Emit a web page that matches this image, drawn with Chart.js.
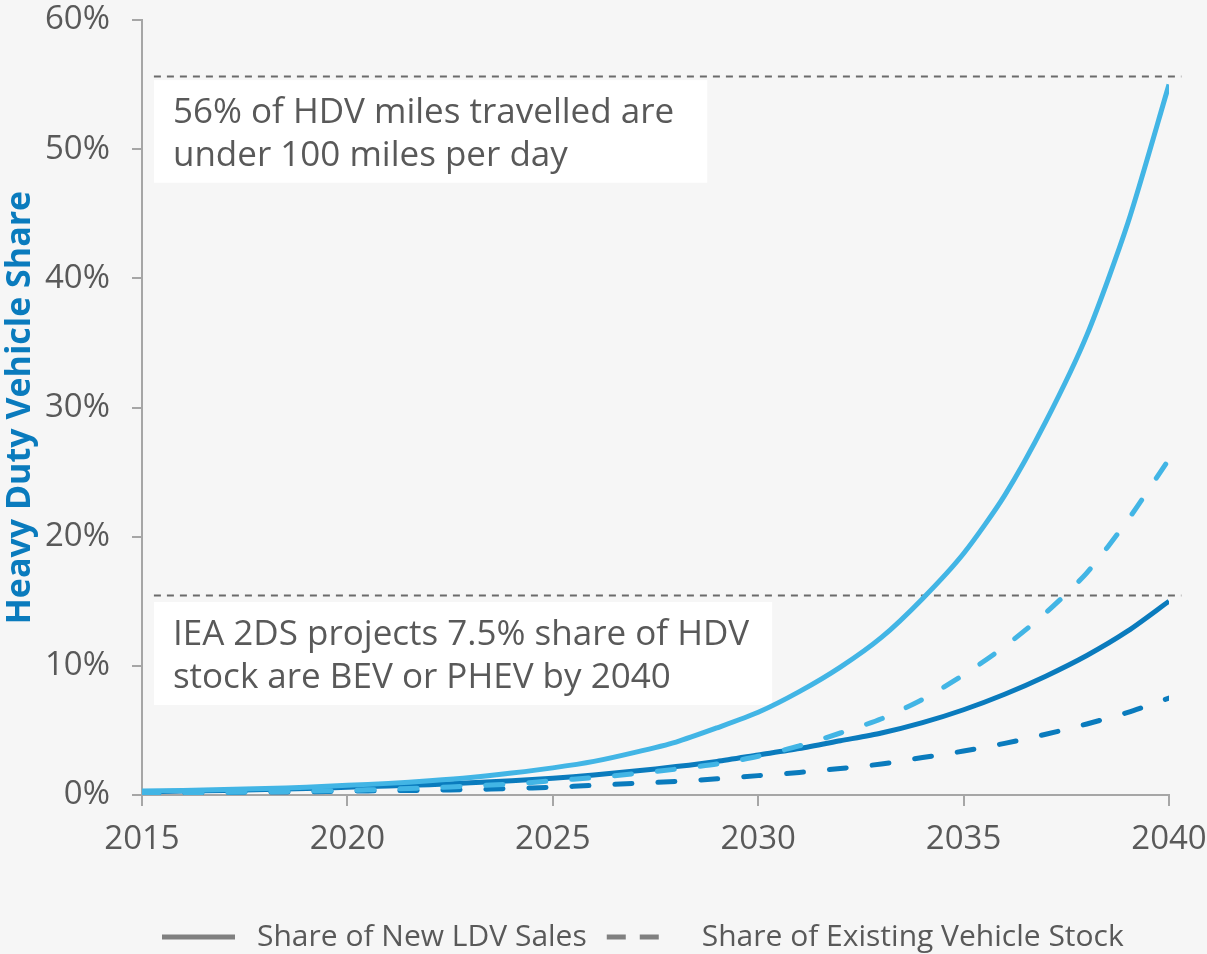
<!DOCTYPE html>
<html>
<head>
<meta charset="utf-8">
<script src="https://cdn.jsdelivr.net/npm/chart.js@4/dist/chart.umd.min.js"></script>
<style>
  html, body { margin: 0; padding: 0; background: #f6f6f6; }
  #wrap { position: relative; width: 1207px; height: 954px; }
</style>
</head>
<body>
<div id="wrap"><canvas id="myChart" width="1207" height="954"></canvas></div>
<script>
const years = [2015, 2016, 2017, 2018, 2019, 2020, 2021, 2022, 2023, 2024, 2025, 2026, 2027,
  2028, 2029, 2030, 2031, 2032, 2033, 2034, 2035, 2036, 2037, 2038, 2039, 2040];

// light blue scenario
const salesHigh = [0.3, 0.35, 0.42, 0.5, 0.6, 0.75, 0.9, 1.1, 1.35, 1.7, 2.1, 2.6, 3.3,
  4.1, 5.2, 6.4, 8.0, 9.9, 12.2, 15.2, 18.7, 23.2, 28.9, 35.6, 44.3, 55.0];
const stockHigh = [0.15, 0.18, 0.2, 0.25, 0.3, 0.35, 0.45, 0.55, 0.7, 0.85, 1.1, 1.35, 1.65,
  2.0, 2.4, 3.0, 3.8, 4.8, 5.9, 7.4, 9.3, 11.5, 14.1, 17.2, 21.3, 26.0];

// dark blue scenario
const salesLow = [0.25, 0.3, 0.35, 0.42, 0.5, 0.6, 0.7, 0.8, 0.95, 1.1, 1.3, 1.55, 1.85,
  2.2, 2.6, 3.1, 3.6, 4.2, 4.8, 5.6, 6.6, 7.8, 9.2, 10.8, 12.7, 15.0];
const stockLow = [0.15, 0.17, 0.2, 0.22, 0.25, 0.3, 0.33, 0.37, 0.42, 0.5, 0.6, 0.75, 0.9,
  1.05, 1.25, 1.5, 1.75, 2.05, 2.4, 2.9, 3.4, 4.0, 4.7, 5.5, 6.4, 7.5];

const legendNames = ["Share of New LDV Sales", "Share of Existing Vehicle Stock"];
const yTicks = [0, 10, 20, 30, 40, 50, 60];
const xTicks = [2015, 2020, 2025, 2030, 2035, 2040];

// reference levels and their notes
const refLevels = [55.7, 15.5];
const noteText = [
  ["56% of HDV miles travelled are", "under 100 miles per day"],
  ["IEA 2DS projects 7.5% share of HDV", "stock are BEV or PHEV by 2040"]
];

const LIGHT = "#42b5e5";
const DARK = "#0a7bbd";
const GRAY = "#595959";
const FONT = "'Open Sans', sans-serif";

function pts(vals) {
  return years.map((yr, i) => ({ x: yr, y: vals[i] }));
}

function lineSet(label, vals, color, dashed) {
  return {
    label: label,
    data: pts(vals),
    borderColor: color,
    borderWidth: 5,
    borderDash: dashed ? [17, 26] : [],
    borderCapStyle: dashed ? "round" : "butt",
    pointRadius: 0,
    tension: 0.25,
    fill: false
  };
}

// note boxes sit in data units: [xFrom, xTo, yTop, yBottom]
const noteBoxes = [
  [2015.29, 2028.76, 55.34, 47.4],
  [2015.29, 2030.34, 14.94, 6.97]
];

const notesPlugin = {
  id: "notes",
  beforeDatasetsDraw(chart) {
    const { ctx, scales: { x, y } } = chart;
    ctx.save();
    // dashed reference lines
    ctx.strokeStyle = "#6b6b6b";
    ctx.lineWidth = 2;
    ctx.setLineDash([7, 6]);
    refLevels.forEach(v => {
      const py = Math.round(y.getPixelForValue(v)) + 0.5;
      ctx.beginPath();
      ctx.moveTo(x.getPixelForValue(2015.29), py);
      ctx.lineTo(x.getPixelForValue(2040.3), py);
      ctx.stroke();
    });
    ctx.setLineDash([]);
    // white note boxes with text
    noteBoxes.forEach((b, i) => {
      const l = x.getPixelForValue(b[0]);
      const r = x.getPixelForValue(b[1]);
      const t = y.getPixelForValue(b[2]);
      const btm = y.getPixelForValue(b[3]);
      ctx.fillStyle = "#ffffff";
      ctx.fillRect(l, t, r - l, btm - t);
      ctx.fillStyle = GRAY;
      ctx.font = "35px " + FONT;
      ctx.textBaseline = "middle";
      ctx.textAlign = "left";
      noteText[i].forEach((line, j) => {
        ctx.fillText(line, l + 19, t + 33 + j * 43);
      });
    });
    ctx.restore();
  }
};

new Chart("myChart", {
  type: "line",
  data: {
    datasets: [
      lineSet("lightSales", salesHigh, LIGHT, false),
      lineSet("lightStock", stockHigh, LIGHT, true),
      lineSet("darkSales", salesLow, DARK, false),
      lineSet("darkStock", stockLow, DARK, true)
    ]
  },
  plugins: [notesPlugin],
  options: {
    responsive: false,
    animation: false,
    layout: { padding: { top: 20, right: 38, bottom: -8, left: 0 } },
    plugins: {
      tooltip: { enabled: false },
      legend: {
        position: "bottom",
        align: "start",
        fullSize: false,
        labels: {
          usePointStyle: true,
          pointStyleWidth: 80,
          padding: 20,
          color: GRAY,
          font: { family: FONT, size: 30 },
          generateLabels() {
            return legendNames.map((name, i) => ({
              text: name,
              pointStyle: "line",
              strokeStyle: "#808080",
              fillStyle: "#808080",
              lineWidth: 5,
              lineDash: i === 0 ? [73, 200] : [19, 14, 19, 200],
              fontColor: GRAY,
              hidden: false,
              datasetIndex: i
            }));
          }
        }
      }
    },
    scales: {
      x: {
        type: "linear",
        min: 2015,
        max: 2040,
        afterFit(scale) {
          scale.height = 107;
          scale.paddingLeft = 0;
          scale.paddingRight = 0;
        },
        afterBuildTicks(scale) { scale.ticks = xTicks.map(v => ({ value: v })); },
        border: { display: true, color: "#a6a6a6", width: 2 },
        grid: { drawOnChartArea: false, drawTicks: true, tickLength: 11, color: "#a6a6a6", lineWidth: 2 },
        ticks: {
          padding: 14,
          color: GRAY,
          font: { family: FONT, size: 33 },
          maxRotation: 0,
          callback: v => String(v)
        }
      },
      y: {
        min: 0,
        max: 60,
        afterFit(scale) {
          scale.width = 142;
          scale.paddingTop = 0;
          scale.paddingBottom = 0;
        },
        afterBuildTicks(scale) { scale.ticks = yTicks.map(v => ({ value: v })); },
        border: { display: true, color: "#a6a6a6", width: 2 },
        grid: { drawOnChartArea: false, drawTicks: true, tickLength: 10, color: "#a6a6a6", lineWidth: 2 },
        title: {
          display: true,
          text: "Heavy Duty Vehicle Share",
          color: DARK,
          padding: { top: 0, bottom: 0 },
          font: { family: FONT, size: 34, weight: "bold" }
        },
        ticks: {
          padding: 22,
          color: GRAY,
          font: { family: FONT, size: 33 },
          callback: v => v + "%"
        }
      }
    }
  }
});
</script>
</body>
</html>
